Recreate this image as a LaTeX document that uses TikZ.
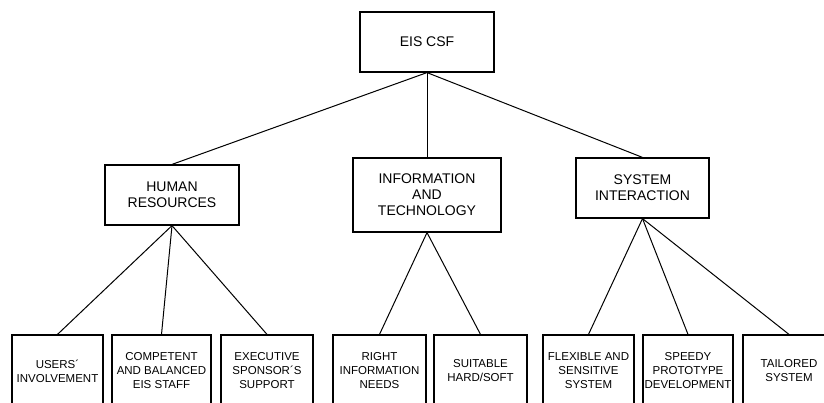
\documentclass[tikz,border=0pt]{standalone}
\usepackage{fontspec}
\setmainfont{Liberation Sans}
\usepackage{tikz}

\begin{document}
\begin{tikzpicture}[x=1pt,y=-1pt,
  box/.style={draw,line width=1.2pt,inner sep=0pt,align=center},
  midbox/.style={box,font=\fontsize{14}{16}\selectfont},
  leafbox/.style={box,font=\fontsize{11.5}{14}\selectfont,minimum height=72pt},
  link/.style={line width=1pt}]
  \useasboundingbox (0,0) rectangle (824,403);
  \clip (0,0) rectangle (824,403);

  % Root
  \node[midbox,minimum width=134pt,minimum height=60pt] (csf) at (427,42) {EIS CSF};

  % Groups
  \node[midbox,minimum width=134pt,minimum height=60pt] (human) at (172,195) {HUMAN\\RESOURCES};
  \node[midbox,minimum width=148pt,minimum height=74pt] (info) at (427,195) {INFORMATION\\AND\\TECHNOLOGY};
  \node[midbox,minimum width=133pt,minimum height=60pt] (system) at (642.5,188) {SYSTEM\\INTERACTION};

  \draw[link] (csf.south) -- (human.north);
  \draw[link] (csf.south) -- (info.north);
  \draw[link] (csf.south) -- (system.north);

  % Human resources
  \node[leafbox,minimum width=91pt] (users) at (57.5,371) {USERS´\\INVOLVEMENT};
  \node[leafbox,minimum width=99pt] (staff) at (161.5,371) {COMPETENT\\AND BALANCED\\EIS STAFF};
  \node[leafbox,minimum width=92pt] (sponsor) at (267,371) {EXECUTIVE\\SPONSOR´S\\SUPPORT};
  \draw[link] (human.south) -- (users.north);
  \draw[link] (human.south) -- (staff.north);
  \draw[link] (human.south) -- (sponsor.north);

  % Information and technology
  \node[leafbox,minimum width=93pt] (needs) at (379.5,371) {RIGHT\\INFORMATION\\NEEDS};
  \node[leafbox,minimum width=93pt] (hardsoft) at (480.5,371) {SUITABLE\\HARD/SOFT};
  \draw[link] (info.south) -- (needs.north);
  \draw[link] (info.south) -- (hardsoft.north);

  % System interaction
  \node[leafbox,minimum width=91pt] (flexible) at (588.5,371) {FLEXIBLE AND\\SENSITIVE\\SYSTEM};
  \node[leafbox,minimum width=90pt] (speedy) at (688,371) {SPEEDY\\PROTOTYPE\\DEVELOPMENT};
  \node[leafbox,minimum width=92pt] (tailored) at (789,371) {TAILORED\\SYSTEM};
  \draw[link] (system.south) -- (flexible.north);
  \draw[link] (system.south) -- (speedy.north);
  \draw[link] (system.south) -- (tailored.north);

\end{tikzpicture}
\end{document}
